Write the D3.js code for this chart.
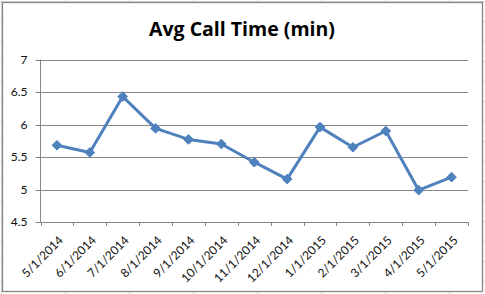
<!DOCTYPE html>
<html>
<head>
<meta charset="utf-8">
<script src="https://cdn.jsdelivr.net/npm/d3@7"></script>
<style>
  html, body { margin:0; padding:0; background:#fff; }
  svg { display:block; font-family: Lato, "Open Sans", sans-serif; }
</style>
</head>
<body>
<svg id="chart" width="485" height="294"></svg>
<script>
/* Avg Call Time (min) — Excel-style line chart */
const MONTHS = ["5/1/2014","6/1/2014","7/1/2014","8/1/2014","9/1/2014","10/1/2014","11/1/2014",
                "12/1/2014","1/1/2015","2/1/2015","3/1/2015","4/1/2015","5/1/2015"];
const CALL_TIME = [5.68, 5.57, 6.43, 5.94, 5.77, 5.70, 5.42, 5.16, 5.96, 5.65, 5.90, 4.99, 5.19];
const Y_TICKS = [4.5, 5, 5.5, 6, 6.5, 7];
const TITLE = "Avg Call Time (min)";

const W = 485, H = 294;
const M = { top:59.5, right:17, bottom:72, left:40.5 };
const svg = d3.select("#chart");

// spreadsheet cell grid behind the chart
const bg = svg.append("g").attr("stroke","#d9d9d9").attr("stroke-width",1);
bg.selectAll("line.v").data(d3.range(1.5, W, 64)).enter().append("line")
  .attr("x1",d=>d).attr("x2",d=>d).attr("y1",0).attr("y2",H);
bg.selectAll("line.h").data(d3.range(1.5, H, 20)).enter().append("line")
  .attr("x1",0).attr("x2",W).attr("y1",d=>d).attr("y2",d=>d);

// chart area
svg.append("rect").attr("x",2.5).attr("y",2.5).attr("width",480).attr("height",289)
  .attr("fill","#fff").attr("stroke","#868686").attr("stroke-width",1.3);

svg.append("text").attr("x",242).attr("y",36).attr("text-anchor","middle")
  .attr("font-family","'Open Sans', sans-serif")
  .attr("font-size",19.5).attr("font-weight","bold").attr("fill","#000").text(TITLE);

const x = d3.scaleBand().domain(MONTHS).range([M.left, W - M.right]);
const y = d3.scaleLinear().domain([4.5, 7]).range([H - M.bottom, M.top]);

const g = svg.append("g");

// horizontal gridlines (with tick stubs to the left)
g.selectAll("line.grid").data(Y_TICKS).enter().append("line")
  .attr("x1", M.left - 5).attr("x2", W - M.right)
  .attr("y1", d => Math.round(y(d)) + 0.5).attr("y2", d => Math.round(y(d)) + 0.5)
  .attr("stroke","#878787").attr("stroke-width",1);

// y axis line
g.append("line").attr("x1",M.left).attr("x2",M.left)
  .attr("y1",y(7)).attr("y2",y(4.5)).attr("stroke","#878787");

// y labels
g.selectAll("text.yl").data(Y_TICKS).enter().append("text")
  .attr("x", M.left - 13).attr("y", d => y(d) + 4)
  .attr("text-anchor","end").attr("font-size",12).attr("fill","#111")
  .text(d => d);

// x tick marks at category boundaries
const bounds = MONTHS.map(m => x(m)).concat([W - M.right]);
g.selectAll("line.xt").data(bounds).enter().append("line")
  .attr("x1", d => Math.round(d) + 0.5).attr("x2", d => Math.round(d) + 0.5)
  .attr("y1", y(4.5)).attr("y2", y(4.5) + 4).attr("stroke","#878787");

// x labels rotated -45°
const cx = m => x(m) + x.bandwidth() / 2;
g.selectAll("text.xl").data(MONTHS).enter().append("text")
  .attr("text-anchor","end").attr("font-size",12).attr("fill","#111")
  .attr("transform", m => `translate(${cx(m) + 7},${y(4.5) + 19}) rotate(-45)`)
  .text(m => m);

// series
const pts = MONTHS.map((m, i) => ({ m, v: CALL_TIME[i] }));
g.append("path").datum(pts)
  .attr("fill","none").attr("stroke","#4f81bd").attr("stroke-width",3)
  .attr("stroke-linejoin","round")
  .attr("d", d3.line().x(d => cx(d.m)).y(d => y(d.v)));

g.selectAll("path.mk").data(pts).enter().append("path")
  .attr("d", d3.symbol(d3.symbolDiamond2, 60))
  .attr("transform", d => `translate(${cx(d.m)},${y(d.v)})`)
  .attr("fill","#4f81bd").attr("stroke","#4f81bd").attr("stroke-width",1);
</script>
</body>
</html>
